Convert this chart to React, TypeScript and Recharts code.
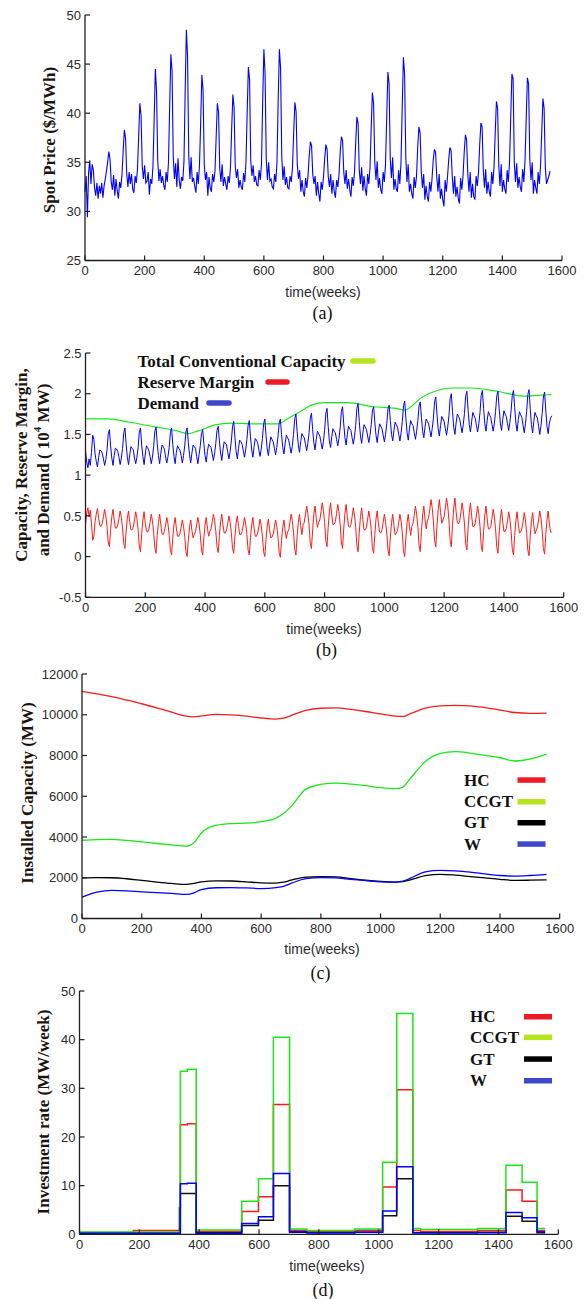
import React from 'react';
import { LineChart, Line, XAxis, YAxis } from 'recharts';

const AXIS = '#1e1e1e';
const TICK_FONT = 'Arial, "Liberation Sans", Helvetica, sans-serif';
const SERIF = '"Liberation Serif", "Times New Roman", "DejaVu Serif", serif';

const weekTicks = [0, 200, 400, 600, 800, 1000, 1200, 1400, 1600];
const SAMPLE_STEP = 4; // weeks between samples in panels (a) and (b)

// ---------- (a) spot price, one row per 52-week year, sampled every 4 weeks ----------
const priceTicks = [25, 30, 35, 40, 45, 50];
const spotPriceRows: number[][] = [
  [32.0, 33.6, 29.4, 33.9, 35.2, 32.8, 34.8, 34.2, 32.4, 31.6, 32.9, 31.3, 32.6],
  [31.8, 32.9, 31.4, 32.6, 33.3, 34.1, 35.0, 36.1, 35.3, 33.0, 32.2, 33.7, 31.6],
  [33.3, 32.1, 31.3, 33.0, 32.4, 33.7, 36.1, 38.3, 37.5, 33.8, 32.5, 34.0, 32.8],
  [33.8, 32.3, 31.9, 33.6, 32.9, 34.3, 37.6, 41.0, 39.8, 34.6, 33.3, 34.7, 32.9],
  [33.1, 34.0, 31.7, 33.3, 32.8, 34.6, 39.4, 44.5, 42.2, 35.1, 33.1, 34.3, 32.9],
  [33.6, 32.7, 32.2, 34.0, 33.0, 35.0, 40.6, 46.0, 44.3, 35.6, 33.3, 34.9, 32.5],
  [35.4, 33.2, 32.3, 33.5, 33.1, 35.1, 42.2, 48.5, 45.8, 35.7, 33.3, 35.5, 33.0],
  [33.4, 32.6, 31.9, 34.0, 32.8, 34.7, 39.0, 43.9, 42.4, 34.8, 33.2, 34.0, 31.6],
  [33.5, 32.4, 32.0, 33.8, 33.0, 34.1, 37.6, 41.0, 40.1, 34.4, 33.0, 34.8, 32.6],
  [33.5, 32.8, 32.2, 33.6, 32.9, 34.5, 38.4, 41.9, 40.6, 34.6, 33.4, 34.3, 32.4],
  [33.2, 32.5, 32.2, 33.9, 33.0, 35.0, 40.1, 44.7, 43.4, 35.1, 33.6, 34.7, 33.0],
  [33.6, 32.7, 32.6, 34.2, 33.2, 34.8, 41.2, 46.5, 44.1, 35.3, 33.2, 35.0, 33.1],
  [33.3, 32.5, 32.3, 33.8, 33.0, 35.0, 41.4, 46.5, 44.6, 35.6, 33.2, 34.6, 32.7],
  [33.5, 32.4, 32.3, 33.6, 33.0, 34.5, 38.0, 41.1, 40.2, 34.8, 33.3, 34.2, 32.0],
  [33.2, 32.0, 31.5, 33.4, 32.4, 33.6, 35.6, 37.1, 36.7, 33.8, 32.8, 33.6, 31.6],
  [33.0, 31.8, 31.0, 33.0, 32.2, 33.5, 35.4, 36.8, 36.3, 33.5, 32.5, 33.8, 31.8],
  [33.2, 32.0, 31.4, 33.2, 32.5, 33.7, 36.0, 37.6, 37.2, 34.0, 32.8, 34.2, 32.3],
  [33.3, 32.2, 31.5, 33.5, 32.6, 34.0, 37.0, 39.6, 39.0, 34.2, 32.8, 34.5, 32.1],
  [33.6, 32.3, 31.6, 33.8, 32.8, 34.4, 38.5, 42.1, 41.0, 35.0, 33.2, 35.1, 32.4],
  [33.4, 32.2, 31.8, 34.0, 33.0, 34.8, 39.5, 44.2, 43.0, 35.3, 33.4, 35.5, 32.2],
  [33.3, 32.3, 32.0, 34.2, 32.8, 35.0, 40.5, 45.7, 44.0, 35.5, 33.0, 34.8, 32.0],
  [32.8, 31.8, 31.3, 33.5, 32.4, 33.6, 36.5, 38.6, 38.0, 34.0, 32.4, 33.8, 31.2],
  [32.6, 31.5, 31.0, 33.0, 32.0, 33.3, 35.2, 36.3, 36.0, 33.5, 32.0, 33.8, 31.3],
  [32.3, 31.2, 30.5, 33.2, 32.0, 33.5, 35.3, 36.5, 36.2, 33.5, 31.8, 33.6, 31.5],
  [32.5, 31.3, 30.8, 33.4, 32.2, 33.6, 36.0, 37.8, 37.3, 33.8, 32.0, 34.0, 31.4],
  [32.8, 31.5, 31.2, 33.6, 32.6, 34.0, 36.8, 39.0, 38.6, 34.2, 32.4, 34.3, 31.8],
  [33.0, 32.0, 31.5, 34.0, 32.8, 34.5, 38.0, 41.2, 40.5, 34.6, 32.6, 34.8, 32.0],
  [33.2, 32.3, 31.8, 34.2, 33.0, 35.0, 39.5, 44.0, 43.5, 35.0, 33.0, 34.9, 32.4],
  [33.5, 32.5, 32.0, 34.3, 33.0, 35.2, 39.5, 43.6, 43.0, 35.2, 33.2, 35.0, 31.8],
  [33.2, 32.4, 31.8, 34.0, 32.8, 34.6, 38.0, 41.5, 40.5, 34.5, 32.8, 33.2, 33.6],
];
const spotPriceEnd = 34.1;

// ---------- (b) demand and reserve margin (10^4 MW), same sampling ----------
const capTicks = [-0.5, 0, 0.5, 1, 1.5, 2, 2.5];
const demandRows: number[][] = [
  [1.30, 1.16, 1.09, 1.20, 1.12, 1.28, 1.49, 1.44, 1.26, 1.17, 1.10, 1.22, 1.31],
  [1.30, 1.27, 1.20, 1.12, 1.19, 1.31, 1.50, 1.56, 1.36, 1.21, 1.12, 1.24, 1.33],
  [1.32, 1.29, 1.22, 1.13, 1.21, 1.33, 1.52, 1.58, 1.38, 1.22, 1.13, 1.25, 1.35],
  [1.33, 1.31, 1.21, 1.14, 1.22, 1.34, 1.53, 1.58, 1.37, 1.23, 1.13, 1.26, 1.36],
  [1.34, 1.30, 1.23, 1.14, 1.22, 1.35, 1.54, 1.59, 1.39, 1.24, 1.14, 1.27, 1.37],
  [1.35, 1.32, 1.22, 1.15, 1.23, 1.34, 1.52, 1.58, 1.38, 1.23, 1.14, 1.28, 1.36],
  [1.33, 1.31, 1.24, 1.15, 1.24, 1.36, 1.53, 1.58, 1.40, 1.25, 1.15, 1.27, 1.37],
  [1.35, 1.33, 1.23, 1.14, 1.25, 1.36, 1.51, 1.56, 1.39, 1.24, 1.16, 1.29, 1.38],
  [1.36, 1.34, 1.26, 1.18, 1.27, 1.39, 1.55, 1.60, 1.42, 1.27, 1.18, 1.31, 1.41],
  [1.39, 1.37, 1.28, 1.20, 1.29, 1.42, 1.60, 1.66, 1.46, 1.29, 1.20, 1.33, 1.43],
  [1.41, 1.38, 1.30, 1.22, 1.31, 1.44, 1.61, 1.67, 1.47, 1.31, 1.22, 1.35, 1.45],
  [1.43, 1.40, 1.31, 1.23, 1.32, 1.45, 1.63, 1.69, 1.49, 1.32, 1.24, 1.37, 1.47],
  [1.44, 1.41, 1.33, 1.25, 1.34, 1.47, 1.64, 1.69, 1.50, 1.34, 1.26, 1.39, 1.49],
  [1.46, 1.43, 1.35, 1.27, 1.36, 1.50, 1.69, 1.75, 1.54, 1.37, 1.28, 1.41, 1.51],
  [1.48, 1.46, 1.38, 1.30, 1.39, 1.52, 1.70, 1.76, 1.56, 1.40, 1.31, 1.44, 1.54],
  [1.51, 1.48, 1.40, 1.32, 1.41, 1.55, 1.75, 1.82, 1.60, 1.42, 1.34, 1.47, 1.57],
  [1.54, 1.52, 1.44, 1.36, 1.45, 1.58, 1.78, 1.84, 1.63, 1.46, 1.37, 1.50, 1.60],
  [1.57, 1.55, 1.46, 1.38, 1.47, 1.61, 1.82, 1.88, 1.66, 1.48, 1.39, 1.52, 1.62],
  [1.59, 1.56, 1.48, 1.40, 1.49, 1.62, 1.79, 1.84, 1.65, 1.49, 1.40, 1.53, 1.63],
  [1.60, 1.57, 1.49, 1.41, 1.50, 1.63, 1.81, 1.86, 1.67, 1.50, 1.42, 1.55, 1.65],
  [1.62, 1.59, 1.50, 1.42, 1.52, 1.66, 1.85, 1.91, 1.70, 1.52, 1.43, 1.57, 1.67],
  [1.63, 1.61, 1.52, 1.44, 1.54, 1.67, 1.85, 1.90, 1.71, 1.54, 1.46, 1.59, 1.69],
  [1.66, 1.63, 1.55, 1.47, 1.57, 1.70, 1.90, 1.96, 1.75, 1.57, 1.48, 1.61, 1.72],
  [1.69, 1.66, 1.57, 1.49, 1.59, 1.73, 1.94, 2.00, 1.78, 1.59, 1.50, 1.64, 1.75],
  [1.72, 1.69, 1.60, 1.52, 1.62, 1.76, 1.97, 2.03, 1.81, 1.62, 1.53, 1.66, 1.77],
  [1.73, 1.70, 1.61, 1.53, 1.63, 1.77, 1.98, 2.04, 1.82, 1.63, 1.54, 1.67, 1.78],
  [1.74, 1.71, 1.62, 1.54, 1.64, 1.78, 1.97, 2.03, 1.82, 1.64, 1.55, 1.68, 1.79],
  [1.75, 1.72, 1.63, 1.55, 1.65, 1.79, 1.98, 2.04, 1.83, 1.64, 1.54, 1.68, 1.78],
  [1.74, 1.71, 1.61, 1.52, 1.63, 1.78, 1.99, 2.05, 1.82, 1.62, 1.52, 1.66, 1.77],
  [1.73, 1.70, 1.60, 1.50, 1.61, 1.76, 1.96, 2.02, 1.80, 1.60, 1.51, 1.64, 1.70],
];
const demandEnd = 1.73;

const reserveRows: number[][] = [
  [0.39, 0.53, 0.60, 0.49, 0.57, 0.41, 0.20, 0.25, 0.43, 0.52, 0.59, 0.47, 0.38],
  [0.37, 0.41, 0.49, 0.58, 0.50, 0.37, 0.18, 0.12, 0.33, 0.49, 0.58, 0.45, 0.35],
  [0.35, 0.39, 0.47, 0.56, 0.48, 0.35, 0.16, 0.10, 0.31, 0.47, 0.56, 0.43, 0.33],
  [0.33, 0.36, 0.45, 0.55, 0.47, 0.33, 0.13, 0.06, 0.28, 0.45, 0.55, 0.41, 0.31],
  [0.30, 0.34, 0.42, 0.52, 0.44, 0.30, 0.11, 0.04, 0.26, 0.42, 0.52, 0.39, 0.28],
  [0.27, 0.31, 0.39, 0.48, 0.40, 0.27, 0.08, 0.02, 0.23, 0.39, 0.48, 0.35, 0.25],
  [0.25, 0.28, 0.36, 0.45, 0.37, 0.25, 0.06, 0.00, 0.20, 0.36, 0.45, 0.32, 0.23],
  [0.27, 0.31, 0.39, 0.48, 0.40, 0.27, 0.08, 0.02, 0.23, 0.39, 0.48, 0.35, 0.25],
  [0.31, 0.34, 0.43, 0.52, 0.44, 0.31, 0.12, 0.05, 0.26, 0.43, 0.52, 0.39, 0.29],
  [0.29, 0.33, 0.41, 0.50, 0.42, 0.29, 0.10, 0.04, 0.25, 0.41, 0.50, 0.37, 0.27],
  [0.27, 0.31, 0.39, 0.48, 0.40, 0.27, 0.08, 0.02, 0.23, 0.39, 0.48, 0.35, 0.25],
  [0.25, 0.29, 0.37, 0.46, 0.38, 0.25, 0.06, 0.00, 0.21, 0.37, 0.46, 0.33, 0.23],
  [0.24, 0.28, 0.36, 0.45, 0.37, 0.24, 0.05, -0.01, 0.20, 0.36, 0.45, 0.32, 0.22],
  [0.30, 0.33, 0.42, 0.52, 0.44, 0.30, 0.09, 0.02, 0.25, 0.42, 0.52, 0.38, 0.27],
  [0.39, 0.42, 0.52, 0.62, 0.53, 0.39, 0.17, 0.10, 0.33, 0.52, 0.62, 0.47, 0.36],
  [0.42, 0.45, 0.55, 0.66, 0.57, 0.42, 0.20, 0.12, 0.36, 0.55, 0.66, 0.51, 0.39],
  [0.40, 0.43, 0.53, 0.64, 0.55, 0.40, 0.18, 0.10, 0.34, 0.53, 0.64, 0.49, 0.37],
  [0.36, 0.39, 0.49, 0.60, 0.51, 0.36, 0.14, 0.06, 0.30, 0.49, 0.60, 0.45, 0.33],
  [0.33, 0.36, 0.46, 0.56, 0.47, 0.33, 0.11, 0.04, 0.27, 0.46, 0.56, 0.41, 0.30],
  [0.29, 0.33, 0.42, 0.52, 0.43, 0.29, 0.08, 0.01, 0.24, 0.42, 0.52, 0.38, 0.27],
  [0.29, 0.32, 0.42, 0.52, 0.43, 0.29, 0.07, 0.00, 0.23, 0.42, 0.52, 0.37, 0.26],
  [0.37, 0.41, 0.51, 0.62, 0.52, 0.37, 0.14, 0.06, 0.31, 0.51, 0.62, 0.46, 0.34],
  [0.44, 0.48, 0.58, 0.70, 0.60, 0.44, 0.20, 0.12, 0.38, 0.58, 0.70, 0.54, 0.41],
  [0.45, 0.49, 0.60, 0.72, 0.62, 0.45, 0.20, 0.12, 0.39, 0.60, 0.72, 0.55, 0.42],
  [0.40, 0.44, 0.54, 0.66, 0.56, 0.40, 0.16, 0.08, 0.34, 0.54, 0.66, 0.50, 0.37],
  [0.37, 0.41, 0.51, 0.62, 0.52, 0.37, 0.14, 0.06, 0.31, 0.51, 0.62, 0.46, 0.34],
  [0.34, 0.37, 0.47, 0.58, 0.49, 0.34, 0.12, 0.04, 0.28, 0.47, 0.58, 0.43, 0.31],
  [0.31, 0.35, 0.44, 0.55, 0.46, 0.31, 0.09, 0.02, 0.26, 0.44, 0.55, 0.40, 0.29],
  [0.30, 0.34, 0.43, 0.54, 0.45, 0.30, 0.08, 0.01, 0.25, 0.43, 0.54, 0.39, 0.28],
  [0.32, 0.36, 0.45, 0.56, 0.47, 0.32, 0.10, 0.03, 0.27, 0.45, 0.56, 0.41, 0.30],
];
const reserveEnd = 0.30;

const totalCapWeeks = [0, 74, 149, 237, 300, 343, 375, 437, 487, 563, 644, 675, 713, 763, 800, 876, 964, 1039, 1068, 1127, 1177, 1227, 1289, 1377, 1465, 1515, 1559];
const totalCapValues = [1.69, 1.69, 1.65, 1.59, 1.55, 1.51, 1.54, 1.62, 1.64, 1.63, 1.63, 1.69, 1.77, 1.87, 1.89, 1.89, 1.84, 1.82, 1.80, 1.96, 2.04, 2.07, 2.07, 2.03, 1.97, 1.98, 1.99];

// ---------- (c) installed capacity (MW) ----------
const instTicks = [0, 2000, 4000, 6000, 8000, 10000, 12000];
const instWeeks = [0, 50, 100, 150, 200, 250, 300, 350, 375, 400, 450, 500, 550, 600, 650, 675, 700, 750, 800, 850, 900, 950, 1000, 1050, 1075, 1100, 1150, 1200, 1250, 1300, 1350, 1400, 1450, 1500, 1556];
const instHC = [11150, 11020, 10890, 10720, 10540, 10340, 10130, 9930, 9900, 9940, 10020, 9990, 9930, 9840, 9790, 9830, 9960, 10220, 10320, 10340, 10260, 10160, 10040, 9930, 9920, 10050, 10320, 10440, 10460, 10440, 10350, 10230, 10110, 10070, 10080];
const instCCGT = [3840, 3870, 3880, 3830, 3760, 3680, 3610, 3550, 3720, 4200, 4580, 4660, 4680, 4750, 4930, 5150, 5500, 6350, 6580, 6640, 6600, 6520, 6420, 6370, 6450, 6880, 7700, 8100, 8190, 8120, 8010, 7890, 7730, 7820, 8070];
const instGT = [1990, 2010, 2000, 1950, 1870, 1790, 1720, 1670, 1720, 1800, 1850, 1840, 1800, 1750, 1740, 1780, 1880, 2030, 2050, 2040, 1960, 1880, 1820, 1790, 1810, 1900, 2100, 2170, 2130, 2060, 1990, 1920, 1870, 1880, 1900];
const instW = [1050, 1300, 1380, 1360, 1310, 1270, 1230, 1180, 1260, 1420, 1510, 1520, 1500, 1470, 1520, 1580, 1720, 1960, 2010, 1990, 1920, 1860, 1800, 1790, 1830, 1980, 2290, 2360, 2340, 2280, 2190, 2110, 2080, 2110, 2170];

// ---------- (d) investment rate (MW/week), step values from each breakpoint ----------
const rateTicks = [0, 10, 20, 30, 40, 50];
const rateWeeks = [0, 180, 334, 337, 360, 390, 542, 598, 648, 702, 760, 920, 1013, 1060, 1114, 1140, 1330, 1425, 1479, 1529, 1556];
const rateHC = [0.35, 0.8, 0.8, 22.5, 22.7, 0.6, 4.7, 7.7, 26.7, 0.8, 0.6, 0.8, 9.7, 29.7, 0.8, 0.6, 0.8, 9.1, 6.8, 0.8, 0.8];
const rateCCGT = [0.45, 0.45, 0.45, 33.5, 33.9, 0.9, 6.8, 11.4, 40.5, 1.1, 0.8, 1.1, 14.8, 45.4, 1.2, 1.0, 1.2, 14.2, 10.7, 1.2, 1.2];
const rateGT = [0.25, 0.25, 5.5, 8.4, 8.4, 0.3, 1.8, 2.9, 10.0, 0.4, 0.3, 0.4, 3.8, 11.4, 0.3, 0.3, 0.4, 3.7, 2.7, 0.3, 0.3];
const rateW = [0.2, 0.2, 0.2, 10.4, 10.5, 0.2, 2.2, 3.6, 12.5, 0.5, 0.3, 0.4, 4.8, 13.9, 0.3, 0.3, 0.3, 4.5, 3.4, 0.5, 0.5];

// ---------- tables ----------
const spotPrice = [...spotPriceRows.flat(), spotPriceEnd];
const priceData = spotPrice.map((v, i) => ({ week: i * SAMPLE_STEP, price: v }));
const demand = [...demandRows.flat(), demandEnd];
const reserve = [...reserveRows.flat(), reserveEnd];
const demandData = demand.map((v, i) => ({ week: i * SAMPLE_STEP, demand: v, reserve: reserve[i] }));
const totalCapData = totalCapWeeks.map((w, i) => ({ week: w, cap: totalCapValues[i] }));
const instData = instWeeks.map((w, i) => ({ week: w, hc: instHC[i], ccgt: instCCGT[i], gt: instGT[i], w: instW[i] }));
const rateData = rateWeeks.map((w, i) => ({ week: w, hc: rateHC[i], ccgt: rateCCGT[i], gt: rateGT[i], w: rateW[i] }));

// ---------- axis ticks (inward tick marks) ----------
const XTick = (props: any) => {
  const { x, y, payload } = props;
  return (
    <g>
      <line x1={x} x2={x} y1={y} y2={y - 5} stroke={AXIS} strokeWidth={1.2} />
      <text x={x} y={y + 5} dy="0.72em" textAnchor="middle" fontFamily={TICK_FONT} fontSize={13} fill="#2a2a2a">
        {payload.value}
      </text>
    </g>
  );
};
const YTick = (props: any) => {
  const { x, y, payload } = props;
  return (
    <g>
      <line x1={x} x2={x + 5} y1={y} y2={y} stroke={AXIS} strokeWidth={1.2} />
      <text x={x - 4} y={y} dy="0.36em" textAnchor="end" fontFamily={TICK_FONT} fontSize={13} fill="#2a2a2a">
        {payload.value}
      </text>
    </g>
  );
};

type PanelProps = {
  top: number;
  margin: { top: number; right: number; bottom: number; left: number };
  domain: [number, number];
  yTicks: number[];
  data: any[];
  children: React.ReactNode;
};

const Panel = ({ top, margin, domain, yTicks, data, children }: PanelProps) => (
  <div style={{ position: 'absolute', left: 0, top, width: 585, height: 300 }}>
    <LineChart width={585} height={300} margin={margin} data={data}>
      <XAxis
        dataKey="week"
        type="number"
        domain={[0, 1600]}
        ticks={weekTicks}
        interval={0}
        height={30}
        tickLine={false}
        tickSize={0}
        tickMargin={0}
        axisLine={{ stroke: AXIS, strokeWidth: 1.3 }}
        tick={(p: any) => <XTick {...p} />}
      />
      <YAxis
        type="number"
        domain={domain}
        ticks={yTicks}
        interval={0}
        width={50}
        tickLine={false}
        tickSize={0}
        tickMargin={0}
        axisLine={{ stroke: AXIS, strokeWidth: 1.3 }}
        tick={(p: any) => <YTick {...p} />}
      />
      {children}
    </LineChart>
  </div>
);

const RED = '#ff1a1a';
const GREEN = '#18e818';
const BLUE = '#0000ff';
const SW_RED = '#ed1c24';
const SW_GREEN = '#b5e61d';
const SW_BLUE = '#3f48cc';

const yLabel = { fontFamily: SERIF, fontWeight: 700, fontSize: 17, fill: '#1a1410' } as const;
const legendText = { fontFamily: SERIF, fontWeight: 700, fontSize: 17, fill: '#111' } as const;
const xTitle = { fontFamily: TICK_FONT, fontSize: 14, fill: '#2a2a2a' } as const;
const caption = { fontFamily: SERIF, fontSize: 18, fill: '#111' } as const;

export default function App() {
  return (
    <div style={{ position: 'absolute', left: 0, top: 0, width: 585, height: 1299, background: '#fff', overflow: 'hidden' }}>
      <Panel top={0} margin={{ top: 15, right: 23, bottom: 9.5, left: 35 }} domain={[25, 50]} yTicks={priceTicks} data={priceData}>
        <Line dataKey="price" type="linear" stroke={BLUE} strokeWidth={1.1} dot={false} isAnimationActive={false} />
      </Panel>

      <Panel top={330} margin={{ top: 23, right: 21.3, bottom: 2.7, left: 35.5 }} domain={[-0.5, 2.5]} yTicks={capTicks} data={demandData}>
        <Line data={totalCapData} dataKey="cap" type="monotone" stroke={GREEN} strokeWidth={1.2} dot={false} isAnimationActive={false} />
        <Line dataKey="reserve" type="linear" stroke={RED} strokeWidth={1} dot={false} isAnimationActive={false} />
        <Line dataKey="demand" type="linear" stroke={BLUE} strokeWidth={1} dot={false} isAnimationActive={false} />
      </Panel>

      <Panel top={650} margin={{ top: 24, right: 25.3, bottom: 1.5, left: 32 }} domain={[0, 12000]} yTicks={instTicks} data={instData}>
        <Line dataKey="hc" type="monotone" stroke={RED} strokeWidth={1.3} dot={false} isAnimationActive={false} />
        <Line dataKey="ccgt" type="monotone" stroke={GREEN} strokeWidth={1.3} dot={false} isAnimationActive={false} />
        <Line dataKey="gt" type="monotone" stroke="#000" strokeWidth={1.3} dot={false} isAnimationActive={false} />
        <Line dataKey="w" type="monotone" stroke={BLUE} strokeWidth={1.3} dot={false} isAnimationActive={false} />
      </Panel>

      <Panel top={970} margin={{ top: 21, right: 26.7, bottom: 5.7, left: 29.5 }} domain={[0, 50]} yTicks={rateTicks} data={rateData}>
        <Line dataKey="hc" type="stepAfter" stroke={RED} strokeWidth={1.5} dot={false} isAnimationActive={false} />
        <Line dataKey="gt" type="stepAfter" stroke="#111" strokeWidth={1.5} dot={false} isAnimationActive={false} />
        <Line dataKey="ccgt" type="stepAfter" stroke={GREEN} strokeWidth={1.5} dot={false} isAnimationActive={false} />
        <Line dataKey="w" type="stepAfter" stroke={BLUE} strokeWidth={1.5} dot={false} isAnimationActive={false} />
      </Panel>

      <svg width={585} height={1299} style={{ position: 'absolute', left: 0, top: 0, pointerEvents: 'none' }}>
        {/* y-axis titles */}
        <text x={49} y={140} transform="rotate(-90 49 140)" textAnchor="middle" dominantBaseline="central" {...yLabel}>
          Spot Price ($/MWh)
        </text>
        <text x={21.5} y={465} transform="rotate(-90 21.5 465)" textAnchor="middle" dominantBaseline="central" {...yLabel}>
          Capacity, Reserve Margin,
        </text>
        <text x={43} y={470} transform="rotate(-90 43 470)" textAnchor="middle" dominantBaseline="central" {...yLabel}>
          and Demand ( 10<tspan fontSize={11} dy={-6}>4</tspan><tspan dy={6}> MW)</tspan>
        </text>
        <text x={27} y={793} transform="rotate(-90 27 793)" textAnchor="middle" dominantBaseline="central" {...yLabel}>
          Installed Capacity (MW)
        </text>
        <text x={43.5} y={1112} transform="rotate(-90 43.5 1112)" textAnchor="middle" dominantBaseline="central" {...yLabel}>
          Investment rate (MW/week)
        </text>

        {/* x-axis titles and captions */}
        <text x={323} y={292} textAnchor="middle" dominantBaseline="central" {...xTitle}>time(weeks)</text>
        <text x={322.5} y={313} textAnchor="middle" dominantBaseline="central" {...caption}>(a)</text>
        <text x={324} y={629} textAnchor="middle" dominantBaseline="central" {...xTitle}>time(weeks)</text>
        <text x={326.5} y={650} textAnchor="middle" dominantBaseline="central" {...caption}>(b)</text>
        <text x={322} y={949} textAnchor="middle" dominantBaseline="central" {...xTitle}>time(weeks)</text>
        <text x={320.5} y={973} textAnchor="middle" dominantBaseline="central" {...caption}>(c)</text>
        <text x={327} y={1266} textAnchor="middle" dominantBaseline="central" {...xTitle}>time(weeks)</text>
        <text x={323} y={1290} textAnchor="middle" dominantBaseline="central" {...caption}>(d)</text>

        {/* legend (b) */}
        <text x={137.5} y={361} dominantBaseline="central" {...legendText}>Total Conventional Capacity</text>
        <line x1={353} x2={373} y1={361} y2={361} stroke={SW_GREEN} strokeWidth={5.5} strokeLinecap="round" />
        <text x={137.5} y={382} dominantBaseline="central" {...legendText}>Reserve Margin</text>
        <line x1={268} x2={287} y1={382} y2={382} stroke={SW_RED} strokeWidth={5.5} strokeLinecap="round" />
        <text x={137.5} y={403} dominantBaseline="central" {...legendText}>Demand</text>
        <line x1={209} x2={229} y1={403} y2={403} stroke={SW_BLUE} strokeWidth={5.5} strokeLinecap="round" />

        {/* legend (c) */}
        <text x={464} y={780} dominantBaseline="central" {...legendText}>HC</text>
        <rect x={517.5} y={777.3} width={28} height={5.5} fill={SW_RED} />
        <text x={464} y={801.7} dominantBaseline="central" {...legendText}>CCGT</text>
        <rect x={517.5} y={799} width={28} height={5.5} fill={SW_GREEN} />
        <text x={464} y={822.7} dominantBaseline="central" {...legendText}>GT</text>
        <rect x={517.5} y={820} width={28} height={5.5} fill="#000" />
        <text x={464} y={844} dominantBaseline="central" {...legendText}>W</text>
        <rect x={517.5} y={841.3} width={28} height={5.5} fill={SW_BLUE} />

        {/* legend (d) */}
        <text x={470} y={1016.7} dominantBaseline="central" {...legendText}>HC</text>
        <rect x={524} y={1014} width={28} height={5.5} fill={SW_RED} />
        <text x={470} y={1037.3} dominantBaseline="central" {...legendText}>CCGT</text>
        <rect x={524} y={1034.6} width={28} height={5.5} fill={SW_GREEN} />
        <text x={470} y={1059} dominantBaseline="central" {...legendText}>GT</text>
        <rect x={524} y={1056.3} width={28} height={5.5} fill="#000" />
        <text x={470} y={1080.7} dominantBaseline="central" {...legendText}>W</text>
        <rect x={524} y={1078} width={28} height={5.5} fill={SW_BLUE} />
      </svg>
    </div>
  );
}
